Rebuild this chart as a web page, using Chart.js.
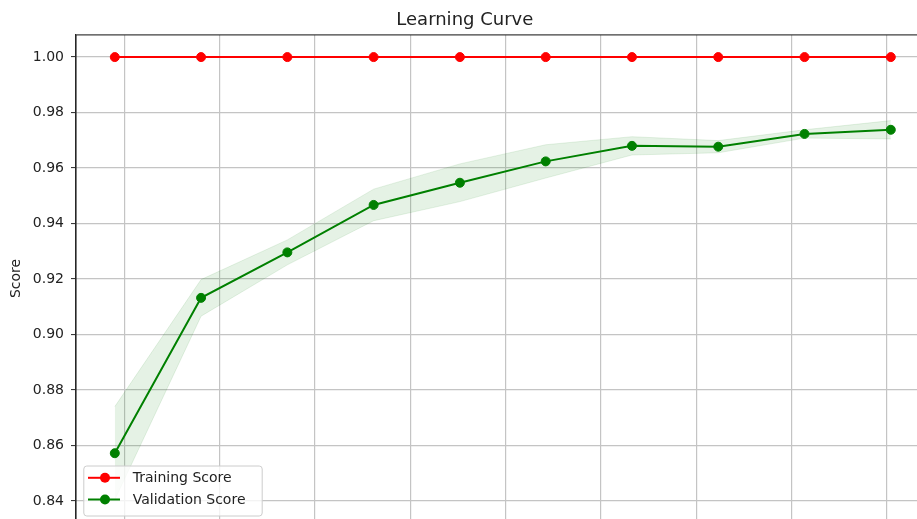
<!DOCTYPE html>
<html>
<head>
<meta charset="utf-8">
<title>Learning Curve</title>
<script src="https://cdn.jsdelivr.net/npm/chart.js@4.4.1/dist/chart.umd.min.js"></script>
<style>
  html, body { margin: 0; padding: 0; background: #ffffff; overflow: hidden; }
  #wrap { width: 917px; height: 519px; overflow: hidden; position: relative; }
  canvas { display: block; }
</style>
</head>
<body>
<div id="wrap"><canvas id="curve" width="950" height="545"></canvas></div>
<script>
// Training-set sizes used for each point of the curve
const trainSizes = [180, 361, 542, 723, 904, 1084, 1265, 1446, 1627, 1808];
// Mean training accuracy per size
const trainScore = [1.0, 1.0, 1.0, 1.0, 1.0, 1.0, 1.0, 1.0, 1.0, 1.0];
// Mean cross-validation accuracy per size
const valScore = [0.8572, 0.9132, 0.9296, 0.9467, 0.9547, 0.9624, 0.9680, 0.9677, 0.9723, 0.9738];
// Standard deviation of the cross-validation accuracy per size
const valStd = [0.0168, 0.0066, 0.0045, 0.0057, 0.0068, 0.0060, 0.0033, 0.0022, 0.0015, 0.0033];
// Tick positions
const xTicks = [200, 400, 600, 800, 1000, 1200, 1400, 1600, 1800];
const yTicks = [0.84, 0.86, 0.88, 0.90, 0.92, 0.94, 0.96, 0.98, 1.00];

const FONT = "'DejaVu Sans', 'Liberation Sans', sans-serif";
const TEXT = '#222222';
const GRID = '#c4c4c4';

const pts = (ys) => trainSizes.map((x, i) => ({ x: x, y: ys[i] }));
const valUpper = valScore.map((m, i) => m + valStd[i]);
const valLower = valScore.map((m, i) => m - valStd[i]);

// Stroke the full axes frame on top of the data
const axesFrame = {
  id: 'axesFrame',
  afterDatasetsDraw(chart) {
    const { ctx, chartArea: a } = chart;
    ctx.save();
    ctx.strokeStyle = '#262626';
    ctx.lineWidth = 1.1;
    ctx.strokeRect(a.left, a.top, a.right - a.left, a.bottom - a.top);
    ctx.restore();
  }
};

// Framed legend in the lower-left corner of the plot area
const cornerLegend = {
  id: 'cornerLegend',
  afterDraw(chart) {
    const { ctx, chartArea: a } = chart;
    const w = 178.4, h = 50;
    const x0 = a.left + 7.3;
    const y0 = a.bottom - 6.5 - h;
    ctx.save();
    ctx.beginPath();
    ctx.roundRect(x0 + 0.5, y0 + 0.5, w, h, 3);
    ctx.fillStyle = 'rgba(255,255,255,0.8)';
    ctx.fill();
    ctx.strokeStyle = '#cccccc';
    ctx.lineWidth = 1;
    ctx.stroke();
    const rows = [12.3, 34.0];
    [0, 1].forEach((di, k) => {
      const ds = chart.data.datasets[di];
      const yy = y0 + rows[k];
      ctx.strokeStyle = ds.borderColor;
      ctx.lineWidth = 2;
      ctx.beginPath();
      ctx.moveTo(x0 + 4.7, yy);
      ctx.lineTo(x0 + 36.7, yy);
      ctx.stroke();
      ctx.fillStyle = ds.backgroundColor;
      ctx.beginPath();
      ctx.arc(x0 + 21.7, yy, 5, 0, Math.PI * 2);
      ctx.fill();
      ctx.fillStyle = TEXT;
      ctx.font = '14px ' + FONT;
      ctx.textBaseline = 'middle';
      ctx.textAlign = 'left';
      ctx.fillText(ds.label, x0 + 49.4, yy + 0.5);
    });
    ctx.restore();
  }
};

new Chart(document.getElementById('curve'), {
  type: 'line',
  data: {
    datasets: [
      {
        label: 'Training Score',
        data: pts(trainScore),
        borderColor: '#ff0000',
        backgroundColor: '#ff0000',
        borderWidth: 2,
        pointRadius: 4.5,
        pointBorderWidth: 1,
        pointBackgroundColor: '#ff0000',
        pointBorderColor: '#ff0000',
        tension: 0,
        fill: false
      },
      {
        label: 'Validation Score',
        data: pts(valScore),
        borderColor: '#008000',
        backgroundColor: '#008000',
        borderWidth: 2,
        pointRadius: 4.5,
        pointBorderWidth: 1,
        pointBackgroundColor: '#008000',
        pointBorderColor: '#008000',
        tension: 0,
        fill: false
      },
      {
        label: 'val-lower',
        data: pts(valLower),
        borderColor: 'rgba(0,128,0,0.1)',
        borderWidth: 1,
        pointRadius: 0,
        tension: 0,
        fill: false
      },
      {
        label: 'val-upper',
        data: pts(valUpper),
        borderColor: 'rgba(0,128,0,0.1)',
        backgroundColor: 'rgba(0,128,0,0.1)',
        borderWidth: 1,
        pointRadius: 0,
        tension: 0,
        fill: '-1'
      }
    ]
  },
  options: {
    responsive: false,
    animation: false,
    devicePixelRatio: 1,
    layout: { padding: { left: 0, right: 20.4, top: 0, bottom: 0 } },
    plugins: {
      legend: { display: false },
      tooltip: { enabled: false },
      title: {
        display: true,
        text: 'Learning Curve',
        color: TEXT,
        font: { family: FONT, size: 18, weight: 'normal', lineHeight: 1.2 },
        padding: { top: 9.7, bottom: 3.6 }
      }
    },
    scales: {
      x: {
        type: 'linear',
        min: 98.6,
        max: 1889.4,
        afterBuildTicks: (s) => { s.ticks = xTicks.map(v => ({ value: v })); },
        afterFit: (s) => { s.height = 23; },
        ticks: { display: false },
        grid: { color: GRID, lineWidth: 1.2, drawTicks: false },
        border: { display: false }
      },
      y: {
        type: 'linear',
        min: 0.8324,
        max: 1.0080,
        afterBuildTicks: (s) => { s.ticks = yTicks.map(v => ({ value: v })); },
        afterFit: (s) => { s.width = 76; },
        ticks: {
          color: TEXT,
          font: { family: FONT, size: 14 },
          padding: 7,
          callback: (v) => Number(v).toFixed(2)
        },
        grid: { color: GRID, lineWidth: 1.2, tickLength: 5, tickColor: '#262626', tickWidth: 1 },
        border: { display: true, color: '#262626', width: 1.1 },
        title: {
          display: true,
          text: 'Score',
          color: TEXT,
          font: { family: FONT, size: 14, lineHeight: 1.2 },
          padding: { top: 8, bottom: 0 }
        }
      }
    }
  },
  plugins: [axesFrame, cornerLegend]
});
</script>
</body>
</html>
